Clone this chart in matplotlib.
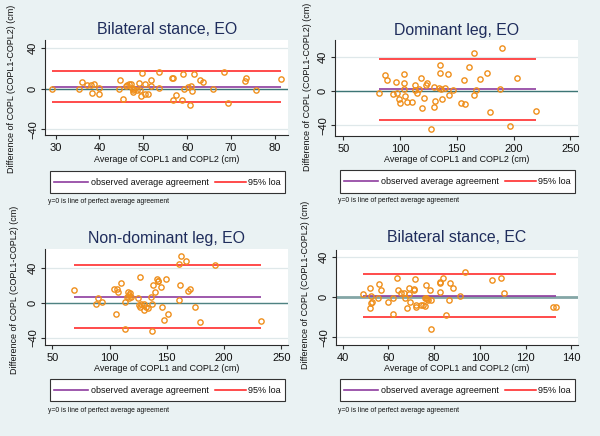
import matplotlib
matplotlib.use("Agg")
import matplotlib.pyplot as plt
from matplotlib.lines import Line2D
from matplotlib.patches import Rectangle

plt.rcParams['font.family'] = ['Liberation Sans', 'DejaVu Sans']

# ---------------- data ----------------
titles = ["Bilateral stance, EO", "Dominant leg, EO", "Non-dominant leg, EO", "Bilateral stance, EC"]
xlabel = "Average of COPL1 and COPL2 (cm)"
ylabel = "Difference of COPL (COPL1-COPL2) (cm)"
legend_labels = ["observed average agreement", "95% loa"]
note = "y=0 is line of perfect average agreement"

p1_avg = [29.3, 36.0, 35.4, 37.2, 38.0, 38.7, 38.4, 39.8, 39.8, 44.4, 44.8, 45.3, 46.0, 46.4, 46.8,
          47.1, 47.5, 47.6, 47.7, 48.0, 48.5, 49.1, 49.3, 49.5, 49.8, 50.4, 50.5, 51.0, 51.7, 51.8,
          53.6, 53.6, 56.5, 56.7, 56.8, 57.4, 58.9, 59.1, 59.3, 60.1, 60.6, 60.9, 61.2, 61.6, 63.0,
          63.7, 65.8, 68.3, 69.4, 73.2, 73.5, 75.7, 81.4]
p1_diff = [0.0, 6.6, 0.0, 3.6, 3.6, 4.9, -3.9, -4.9, 0.3, 0.0, 7.9, -10.5, 2.6, 3.3, 4.3,
           4.3, 0.7, -1.6, -3.0, -0.3, -1.0, 5.9, -1.0, -7.5, 14.8, -4.9, 4.9, -4.9, 8.2, 3.0,
           16.4, 0.7, 10.8, 10.2, -11.1, -6.6, -11.5, 13.8, 0.0, 2.0, -15.7, 2.3, -2.0, 14.1, 8.2,
           6.2, 0.0, 16.1, -14.1, 7.2, 10.5, -1.3, 8.9]
p1_mean, p1_upper, p1_lower = 2.0, 16.7, -13.1
p1_xticks = [30, 40, 50, 60, 70, 80]

p2_avg = [81.4, 86.7, 88.7, 94.0, 96.0, 96.9, 98.7, 99.6, 103.1, 103.1, 103.4, 104.0, 106.0, 110.4,
          112.8, 112.8, 115.1, 116.3, 118.0, 119.5, 120.7, 122.7, 123.3, 127.1, 129.5, 130.1, 131.2,
          133.9, 135.0, 135.3, 135.9, 136.8, 140.0, 142.1, 143.3, 146.8, 154.1, 155.9, 157.0, 160.3,
          164.7, 165.5, 166.7, 170.5, 177.0, 179.0, 188.4, 190.2, 196.6, 203.1, 219.8]
p2_diff = [-2.3, 18.8, 12.9, -3.5, 10.9, -2.3, -9.4, -13.3, 19.9, 2.7, 9.8, -5.5, -12.5, -12.1,
           7.0, 1.2, -1.6, 2.0, 15.6, -19.9, -8.2, 7.8, 9.8, -44.1, 5.1, -18.4, -11.3,
           3.9, 30.1, 21.1, 2.3, -8.6, 3.5, 19.9, -3.9, 1.2, -14.1, 12.9, -14.8, 27.7,
           -3.9, 44.9, 1.6, 14.8, 21.5, -24.6, 2.0, 50.8, -41.0, 16.0, -22.7]
p2_mean, p2_upper, p2_lower = 2.0, 37.1, -34.0
p2_xticks = [50, 100, 150, 200, 250]

p3_avg = [68.9, 88.1, 89.8, 93.0, 103.8, 105.5, 106.7, 107.3, 109.6, 113.7, 113.1, 115.7, 115.4,
          116.6, 117.7, 117.2, 118.3, 124.4, 125.3, 126.5, 126.7, 127.6, 129.9, 129.9, 131.7, 133.7,
          135.8, 136.9, 137.5, 136.9, 139.5, 141.3, 142.2, 142.7, 145.3, 145.9, 147.7, 149.1, 150.6,
          160.5, 161.3, 161.0, 162.5, 166.6, 168.9, 170.6, 174.7, 178.8, 191.9, 232.0]
p3_diff = [14.5, -1.5, 5.3, 0.8, 15.2, -12.2, 16.0, 12.2, 22.5, 0.8, -29.3, 12.2, 6.9,
           5.0, 10.7, 9.1, 6.1, 5.7, -3.0, -4.6, 29.7, -1.5, -0.8, -8.4, -4.6, -5.7,
           6.5, -1.5, 19.8, -31.6, 12.2, 26.7, 25.1, 24.4, 18.3, -4.6, -19.8, 27.4, -13.0,
           44.2, 20.6, 3.4, 53.0, 48.0, 13.7, 16.0, -4.6, -21.3, 42.7, -20.6]
p3_mean, p3_upper, p3_lower = 6.9, 42.7, -29.0
p3_xticks = [50, 100, 150, 200, 250]

p4_avg = [48.9, 51.9, 51.9, 52.2, 52.5, 52.8, 55.3, 56.0, 56.9, 59.8, 61.9, 62.1, 63.8, 64.3, 65.3,
          67.0, 67.3, 68.3, 69.2, 69.2, 69.5, 71.1, 71.3, 71.7, 72.1, 72.1, 74.4, 75.3, 76.0, 76.0,
          76.5, 76.6, 77.1, 77.2, 78.2, 78.7, 78.8, 82.6, 82.7, 82.7, 84.0, 85.2, 86.8, 86.7, 88.4,
          91.3, 93.3, 105.1, 109.2, 110.5, 131.9, 133.5]
p4_diff = [3.0, 9.0, -11.0, -5.6, 1.7, -4.3, -0.3, 13.0, 7.3, -5.0, -16.3, -0.3, 18.9, 7.0, 4.0,
           4.7, -1.0, -10.6, 9.3, 3.0, -4.3, 8.0, 7.3, 17.9, -7.6, -10.0, -7.6, -8.0, -0.3, -8.3,
           12.6, -0.3, -1.3, -2.3, 7.6, -3.0, -31.9, 15.3, 14.0, 5.3, 18.9, -17.6, 14.0, -2.3, 9.3,
           1.0, 25.6, 17.3, 19.6, 4.0, -9.6, -9.6]
p4_mean, p4_upper, p4_lower = 1.7, 23.6, -19.9
p4_xticks = [40, 60, 80, 100, 120, 140]

yticks = [-40, 0, 40]

# ---------------- style ----------------
BG = '#eaf2f3'
GRID = '#dfe8ea'
TITLE_C = '#1f2d5c'
PT_C = '#ef8f1c'
MEAN_C = '#8e3c9e'
LOA_C = '#ff1a1a'
AX_C = '#2b2b2b'

W, H = 600, 436
fig = plt.figure(figsize=(6, 4.36), dpi=100, facecolor=BG)


def rect(x0, y0, x1, y1):
    return [x0 / W, 1 - y1 / H, (x1 - x0) / W, (y1 - y0) / H]


def fp(x, y):
    return x / W, 1 - y / H


panels = [
    dict(avg=p1_avg, diff=p1_diff, mean=p1_mean, up=p1_upper, lo=p1_lower, xt=p1_xticks,
         box=(45, 40, 288, 135.5), xlim=(27.6, 83.0), ylim=(-45.9, 47.5),
         title=(167, 30), xlab=(166.5, 159), ylab=(12, 89), leg=(50, 171, 285, 193), note=(48, 201),
         zc='#3d7575', zw=1.0),
    dict(avg=p2_avg, diff=p2_diff, mean=p2_mean, up=p2_upper, lo=p2_lower, xt=p2_xticks,
         box=(335, 40, 578, 136), xlim=(42.7, 256.7), ylim=(-52.3, 59.8),
         title=(457, 30), xlab=(456.5, 159), ylab=(307, 87), leg=(340, 170, 575, 193), note=(338, 200),
         zc='#3d7575', zw=1.0),
    dict(avg=p3_avg, diff=p3_diff, mean=p3_mean, up=p3_upper, lo=p3_lower, xt=p3_xticks,
         box=(45, 249, 288, 345), xlim=(43.6, 255.8), ylim=(-48.0, 61.3),
         title=(167, 238), xlab=(166.5, 368), ylab=(15, 290), leg=(50, 379, 285, 401), note=(48, 410),
         zc='#4f8282', zw=1.0),
    dict(avg=p4_avg, diff=p4_diff, mean=p4_mean, up=p4_upper, lo=p4_lower, xt=p4_xticks,
         box=(336, 250, 578, 345), xlim=(37.1, 142.9), ylim=(-47.5, 47.2),
         title=(457, 238), xlab=(457, 368), ylab=(306, 285), leg=(340, 379, 575, 401), note=(338, 410),
         zc='#84a6a6', zw=2.0),
]

for title, p in zip(titles, panels):
    ax = fig.add_axes(rect(*p['box']))
    ax.set_facecolor('white')
    ax.set_xlim(*p['xlim'])
    ax.set_ylim(*p['ylim'])
    for s in ['top', 'right']:
        ax.spines[s].set_visible(False)
    for s in ['left', 'bottom']:
        ax.spines[s].set_color(AX_C)
        ax.spines[s].set_linewidth(0.8)
    ax.set_xticks(p['xt'])
    ax.set_yticks(yticks)
    ax.tick_params(axis='both', direction='out', length=3, width=0.8, color=AX_C,
                   labelsize=8, labelcolor='#111111')
    ax.tick_params(axis='x', pad=2.5)
    ax.tick_params(axis='y', pad=2, labelrotation=90)
    for lbl in ax.get_yticklabels():
        lbl.set_va('center')
    ax.grid(axis='y', color=GRID, lw=0.9, zorder=0)
    ax.set_axisbelow(True)

    ax.axhline(0, color=p['zc'], lw=p['zw'], zorder=2)
    xmin, xmax = min(p['avg']), max(p['avg'])
    ax.hlines([p['up'], p['lo']], xmin, xmax, color=LOA_C, lw=1.1, zorder=3)
    ax.hlines(p['mean'], xmin, xmax, color=MEAN_C, lw=1.2, zorder=3)
    ax.plot(p['avg'], p['diff'], 'o', ms=3.8, mfc='none', mec=PT_C, mew=1.0, zorder=4,
            clip_on=False)

    tx, ty = fp(*p['title'])
    fig.text(tx, ty, title, ha='center', va='center', fontsize=11.4, color=TITLE_C)
    lx, ly = fp(*p['xlab'])
    fig.text(lx, ly, xlabel, ha='center', va='center', fontsize=6.5, color='#111111')
    yx, yy = fp(*p['ylab'])
    fig.text(yx, yy, ylabel, ha='center', va='center', rotation=90, fontsize=6.5, color='#111111')

    # legend box
    lx0, ly0, lx1, ly1 = p['leg']
    fig.patches.append(Rectangle(fp(lx0, ly1), (lx1 - lx0) / W, (ly1 - ly0) / H,
                                 transform=fig.transFigure, facecolor='white',
                                 edgecolor='#333333', lw=0.8))
    cy = (ly0 + ly1) / 2
    fig.lines.append(Line2D([(lx0 + 4) / W, (lx0 + 38) / W], [1 - cy / H] * 2,
                            transform=fig.transFigure, color=MEAN_C, lw=1.2))
    fig.text((lx0 + 41) / W, 1 - cy / H, legend_labels[0], ha='left', va='center',
             fontsize=6.5, color='#111111')
    fig.lines.append(Line2D([(lx0 + 165) / W, (lx0 + 196) / W], [1 - cy / H] * 2,
                            transform=fig.transFigure, color=LOA_C, lw=1.1))
    fig.text((lx0 + 198) / W, 1 - cy / H, legend_labels[1], ha='left', va='center',
             fontsize=6.5, color='#111111')

    nx, ny = fp(*p['note'])
    fig.text(nx, ny, note, ha='left', va='center', fontsize=4.9, color='#111111')

fig.savefig('out.png', dpi=100, facecolor=BG)
